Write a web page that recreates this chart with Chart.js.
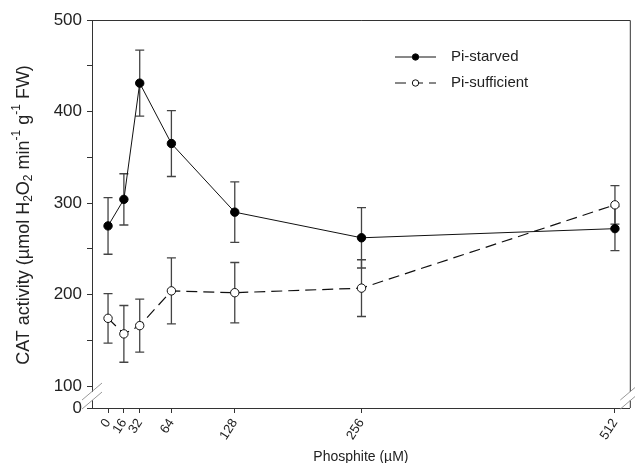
<!DOCTYPE html>
<html>
<head>
<meta charset="utf-8">
<script src="https://cdn.jsdelivr.net/npm/chart.js@4.4.1/dist/chart.umd.min.js"></script>
<style>
  html, body { margin: 0; padding: 0; background: #fff; }
  canvas { display: block; }
</style>
</head>
<body>
<canvas id="cat" width="635" height="463"></canvas>
<script>
// CAT activity vs phosphite concentration, two Pi regimes
const phosphite = [0, 16, 32, 64, 128, 256, 512];

const starvedMean = [275, 304, 431, 365, 290, 262, 272];
const starvedErr  = [31, 28, 36, 36, 33, 33, 24];

const sufficientMean = [174, 157, 166, 204, 202, 207, 298];
const sufficientErr  = [27, 31, 29, 36, 33, 31, 21];

const xTicks = [0, 16, 32, 64, 128, 256, 512];
const yTicks = [100, 150, 200, 250, 300, 350, 400, 450, 500];
const yBase = 76;          // value at the bottom of the broken axis, labelled "0"

const FONT = '"Liberation Sans", Arial, sans-serif';
const INK = '#222';

// error bars, drawn under the markers
const errorBars = {
  id: 'errorBars',
  beforeDatasetsDraw(chart) {
    const { ctx, scales: { x, y } } = chart;
    const sets = [[starvedMean, starvedErr], [sufficientMean, sufficientErr]];
    ctx.save();
    ctx.strokeStyle = '#444';
    ctx.lineWidth = 1.3;
    sets.forEach(([mean, err]) => {
      phosphite.forEach((p, i) => {
        const px = x.getPixelForValue(p);
        const top = y.getPixelForValue(mean[i] + err[i]);
        const bot = y.getPixelForValue(mean[i] - err[i]);
        ctx.beginPath();
        ctx.moveTo(px, top); ctx.lineTo(px, bot);
        ctx.moveTo(px - 4.5, top); ctx.lineTo(px + 4.5, top);
        ctx.moveTo(px - 4.5, bot); ctx.lineTo(px + 4.5, bot);
        ctx.stroke();
      });
    });
    ctx.restore();
  }
};

// frame, axis breaks, y title with sub/superscripts, legend
const decorations = {
  id: 'decorations',
  afterDraw(chart) {
    const { ctx, chartArea: a, scales: { y } } = chart;
    ctx.save();

    // top and right edges of the frame
    ctx.strokeStyle = '#333';
    ctx.lineWidth = 1;
    ctx.beginPath();
    ctx.moveTo(a.left, a.top + 0.5); ctx.lineTo(a.right + 0.5, a.top + 0.5);
    ctx.lineTo(a.right + 0.5, a.bottom);
    ctx.stroke();

    // axis break between 0 and 100
    const yb = (y.getPixelForValue(100) + a.bottom) / 2 - 1;
    [a.left, a.right + 0.5].forEach(ax => {
      ctx.fillStyle = '#fff';
      ctx.fillRect(ax - 2, yb - 4, 4, 8);
      ctx.strokeStyle = '#999';
      ctx.lineWidth = 1;
      ctx.beginPath();
      ctx.moveTo(ax - 10, yb + 4); ctx.lineTo(ax + 10, yb - 13);
      ctx.moveTo(ax - 10, yb + 13); ctx.lineTo(ax + 10, yb - 4);
      ctx.stroke();
    });

    // y axis title
    const parts = [
      ['CAT activity (µmol H', 0], ['2', 1], ['O', 0], ['2', 1],
      [' min', 0], ['-1', -1], [' g', 0], ['-1', -1], [' FW)', 0]
    ];
    const big = '18px ' + FONT, small = '12px ' + FONT;
    let total = 0;
    parts.forEach(([t, s]) => { ctx.font = s ? small : big; total += ctx.measureText(t).width; });
    ctx.translate(24, 215);
    ctx.rotate(-Math.PI / 2);
    ctx.fillStyle = INK;
    ctx.textBaseline = 'middle';
    let cx = -total / 2;
    parts.forEach(([t, s]) => {
      ctx.font = s ? small : big;
      ctx.fillText(t, cx, s === 1 ? 5 : s === -1 ? -7 : 0);
      cx += ctx.measureText(t).width;
    });
    ctx.setTransform(1, 0, 0, 1, 0, 0);

    // legend
    const rows = [
      { label: 'Pi-starved', y: 57, dash: [], fill: '#000' },
      { label: 'Pi-sufficient', y: 83, dash: [11, 6], fill: '#fff' }
    ];
    rows.forEach(r => {
      ctx.strokeStyle = '#111';
      ctx.lineWidth = 1;
      ctx.setLineDash(r.dash);
      ctx.beginPath();
      ctx.moveTo(395, r.y); ctx.lineTo(436, r.y);
      ctx.stroke();
      ctx.setLineDash([]);
      ctx.beginPath();
      ctx.arc(415.5, r.y, 3.2, 0, Math.PI * 2);
      ctx.fillStyle = r.fill;
      ctx.fill();
      ctx.stroke();
      ctx.fillStyle = INK;
      ctx.font = '15px ' + FONT;
      ctx.textBaseline = 'middle';
      ctx.fillText(r.label, 451, r.y);
    });
    ctx.restore();
  }
};

const pts = (ys) => phosphite.map((p, i) => ({ x: p, y: ys[i] }));

new Chart(document.getElementById('cat'), {
  type: 'scatter',
  data: {
    datasets: [
      {
        label: 'Pi-starved',
        data: pts(starvedMean),
        showLine: true,
        borderColor: '#111',
        borderWidth: 1,
        pointRadius: 4.2,
        pointBackgroundColor: '#000',
        pointBorderColor: '#000',
        pointBorderWidth: 1
      },
      {
        label: 'Pi-sufficient',
        data: pts(sufficientMean),
        showLine: true,
        borderColor: '#111',
        borderWidth: 1.2,
        borderDash: [11, 6],
        pointRadius: 4.2,
        pointBackgroundColor: '#fff',
        pointBorderColor: '#111',
        pointBorderWidth: 1
      }
    ]
  },
  options: {
    responsive: false,
    animation: false,
    layout: { padding: { top: 20, right: 5, left: 0, bottom: 0 } },
    plugins: { legend: { display: false }, tooltip: { enabled: false } },
    scales: {
      x: {
        type: 'linear',
        min: -16.2,
        max: 527,
        afterBuildTicks: s => { s.ticks = xTicks.map(v => ({ value: v })); },
        afterFit: s => { s.height = 55; },
        ticks: {
          autoSkip: false,
          minRotation: 57,
          maxRotation: 57,
          padding: 3,
          color: INK,
          font: { family: FONT, size: 13 },
          callback: v => String(v)
        },
        grid: { display: true, drawOnChartArea: false, tickLength: 5, color: '#333' },
        border: { color: '#333', width: 1 },
        title: {
          display: true,
          text: 'Phosphite (µM)',
          color: INK,
          font: { family: FONT, size: 14 },
          padding: { top: 0, bottom: -3 }
        }
      },
      y: {
        type: 'linear',
        min: yBase,
        max: 500,
        afterBuildTicks: s => { s.ticks = [yBase, ...yTicks].map(v => ({ value: v })); },
        afterFit: s => { s.width = 92; },
        ticks: {
          autoSkip: false,
          padding: 5,
          color: INK,
          font: { family: FONT, size: 17 },
          callback: v => v === yBase ? '0' : (v % 100 === 0 ? String(v) : '')
        },
        grid: { display: true, drawOnChartArea: false, tickLength: 5, color: '#333' },
        border: { color: '#333', width: 1 }
      }
    }
  },
  plugins: [errorBars, decorations]
});
</script>
</body>
</html>
